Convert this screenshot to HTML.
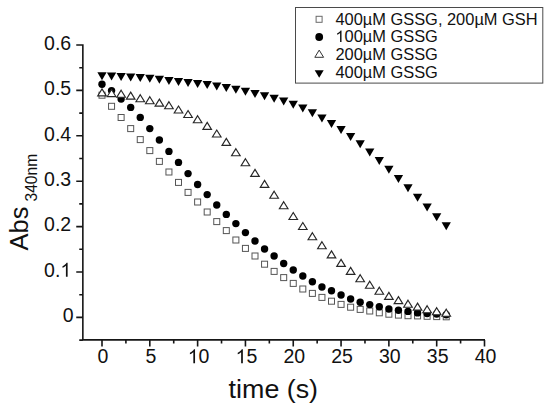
<!DOCTYPE html>
<html><head><meta charset="utf-8"><style>
html,body{margin:0;padding:0;background:#fff;width:550px;height:411px;overflow:hidden}
svg{display:block;font-family:"Liberation Sans",sans-serif}
</style></head><body>
<svg width="550" height="411" viewBox="0 0 550 411">
<rect width="550" height="411" fill="#fff"/>
<path d="M82.85 44.2V339.9M82.85 339.9H485M76.25 317.4H82.85M76.25 272H82.85M76.25 226.6H82.85M76.25 181.2H82.85M76.25 135.8H82.85M76.25 90.4H82.85M76.25 45H82.85M79.25 340.1H82.85M79.25 294.7H82.85M79.25 249.3H82.85M79.25 203.9H82.85M79.25 158.5H82.85M79.25 113.1H82.85M79.25 67.7H82.85M102 339.9V346.5M149.81 339.9V346.5M197.62 339.9V346.5M245.44 339.9V346.5M293.25 339.9V346.5M341.06 339.9V346.5M388.88 339.9V346.5M436.69 339.9V346.5M484.5 339.9V346.5M125.91 339.9V343.5M173.72 339.9V343.5M221.53 339.9V343.5M269.34 339.9V343.5M317.16 339.9V343.5M364.97 339.9V343.5M412.78 339.9V343.5M460.59 339.9V343.5" fill="none" stroke="#161616" stroke-width="1.6"/>
<g font-size="19.5" fill="#111"><text x="44.09" y="276.7">0.</text><path transform="translate(60.36,276.7) scale(0.00952,-0.00952)" d="M763 0H583V1147Q518 1085 412.5 1023T223 930V1104Q375 1175 489 1276T650 1472H763V0Z"/><text x="44.09" y="231.3">0.2</text><text x="44.09" y="185.9">0.3</text><text x="44.09" y="140.5">0.4</text><text x="44.09" y="95.1">0.5</text><text x="44.09" y="49.7">0.6</text><text x="62.86" y="322.1">0</text></g>
<g font-size="19.5" fill="#111"><text x="97.58" y="363.2">0</text><text x="145.39" y="363.2">5</text><path transform="translate(187.78,363.2) scale(0.00952,-0.00952)" d="M763 0H583V1147Q518 1085 412.5 1023T223 930V1104Q375 1175 489 1276T650 1472H763V0Z"/><text x="198.62" y="363.2">0</text><path transform="translate(235.59,363.2) scale(0.00952,-0.00952)" d="M763 0H583V1147Q518 1085 412.5 1023T223 930V1104Q375 1175 489 1276T650 1472H763V0Z"/><text x="246.44" y="363.2">5</text><text x="283.41" y="363.2">20</text><text x="331.22" y="363.2">25</text><text x="379.03" y="363.2">30</text><text x="426.84" y="363.2">35</text><text x="474.66" y="363.2">40</text></g>
<text x="0" y="0" font-size="26.2" fill="#111" transform="translate(228.6,397.9) scale(1.025,1)">time (s)</text>
<g transform="translate(28.2,250.4) rotate(-90) scale(1,1.03)"><text x="0" y="0" font-size="25.4" fill="#111">Abs</text></g>
<g transform="translate(37.0,201.5) rotate(-90)"><text x="0" y="0" font-size="15.6" fill="#111">340nm</text></g>
<g fill="#fff" stroke="#555" stroke-width="1"><rect x="99" y="92.2" width="6" height="6"/><rect x="108.56" y="103.3" width="6" height="6"/><rect x="118.12" y="114.5" width="6" height="6"/><rect x="127.69" y="125.6" width="6" height="6"/><rect x="137.25" y="136.6" width="6" height="6"/><rect x="146.81" y="147.6" width="6" height="6"/><rect x="156.38" y="158.4" width="6" height="6"/><rect x="165.94" y="169" width="6" height="6"/><rect x="175.5" y="179.4" width="6" height="6"/><rect x="185.06" y="189.4" width="6" height="6"/><rect x="194.62" y="199" width="6" height="6"/><rect x="204.19" y="209" width="6" height="6"/><rect x="213.75" y="218.6" width="6" height="6"/><rect x="223.31" y="227.6" width="6" height="6"/><rect x="232.88" y="237" width="6" height="6"/><rect x="242.44" y="245.4" width="6" height="6"/><rect x="252" y="253" width="6" height="6"/><rect x="261.56" y="261.2" width="6" height="6"/><rect x="271.12" y="268.4" width="6" height="6"/><rect x="280.69" y="274.6" width="6" height="6"/><rect x="290.25" y="280.4" width="6" height="6"/><rect x="299.81" y="286" width="6" height="6"/><rect x="309.38" y="290.4" width="6" height="6"/><rect x="318.94" y="294.4" width="6" height="6"/><rect x="328.5" y="298.2" width="6" height="6"/><rect x="338.06" y="301.4" width="6" height="6"/><rect x="347.62" y="304.2" width="6" height="6"/><rect x="357.19" y="306.4" width="6" height="6"/><rect x="366.75" y="308" width="6" height="6"/><rect x="376.31" y="309.8" width="6" height="6"/><rect x="385.88" y="311.2" width="6" height="6"/><rect x="395.44" y="312.1" width="6" height="6"/><rect x="405" y="312.7" width="6" height="6"/><rect x="414.56" y="312.9" width="6" height="6"/><rect x="424.12" y="313.3" width="6" height="6"/><rect x="433.69" y="313.6" width="6" height="6"/><rect x="443.25" y="313.8" width="6" height="6"/></g>
<g fill="#000"><circle cx="102" cy="84.2" r="3.7"/><circle cx="111.56" cy="90.6" r="3.7"/><circle cx="121.12" cy="99" r="3.7"/><circle cx="130.69" cy="107.4" r="3.7"/><circle cx="140.25" cy="117.4" r="3.7"/><circle cx="149.81" cy="128.6" r="3.7"/><circle cx="159.38" cy="140" r="3.7"/><circle cx="168.94" cy="151.4" r="3.7"/><circle cx="178.5" cy="162.4" r="3.7"/><circle cx="188.06" cy="173.6" r="3.7"/><circle cx="197.62" cy="184.5" r="3.7"/><circle cx="207.19" cy="194.6" r="3.7"/><circle cx="216.75" cy="205" r="3.7"/><circle cx="226.31" cy="214.4" r="3.7"/><circle cx="235.88" cy="223.6" r="3.7"/><circle cx="245.44" cy="232.6" r="3.7"/><circle cx="255" cy="241" r="3.7"/><circle cx="264.56" cy="249" r="3.7"/><circle cx="274.12" cy="256" r="3.7"/><circle cx="283.69" cy="263.5" r="3.7"/><circle cx="293.25" cy="270" r="3.7"/><circle cx="302.81" cy="276" r="3.7"/><circle cx="312.38" cy="281.8" r="3.7"/><circle cx="321.94" cy="287" r="3.7"/><circle cx="331.5" cy="290.8" r="3.7"/><circle cx="341.06" cy="295" r="3.7"/><circle cx="350.62" cy="299" r="3.7"/><circle cx="360.19" cy="302.2" r="3.7"/><circle cx="369.75" cy="304.6" r="3.7"/><circle cx="379.31" cy="306.8" r="3.7"/><circle cx="388.88" cy="309" r="3.7"/><circle cx="398.44" cy="310.2" r="3.7"/><circle cx="408" cy="311.4" r="3.7"/><circle cx="417.56" cy="312.9" r="3.7"/><circle cx="427.12" cy="313.6" r="3.7"/><circle cx="436.69" cy="314" r="3.7"/><circle cx="446.25" cy="314.7" r="3.7"/></g>
<g fill="#fff" stroke="#262626" stroke-width="1.15"><path d="M102 88.85L106.3 95.85L97.7 95.85Z"/><path d="M111.56 89.55L115.86 96.55L107.26 96.55Z"/><path d="M121.12 90.2L125.42 97.2L116.83 97.2Z"/><path d="M130.69 92.1L134.99 99.1L126.39 99.1Z"/><path d="M140.25 94.7L144.55 101.7L135.95 101.7Z"/><path d="M149.81 96.7L154.11 103.7L145.51 103.7Z"/><path d="M159.38 99.1L163.68 106.1L155.07 106.1Z"/><path d="M168.94 101.7L173.24 108.7L164.64 108.7Z"/><path d="M178.5 106L182.8 113L174.2 113Z"/><path d="M188.06 110.5L192.36 117.5L183.76 117.5Z"/><path d="M197.62 115.7L201.93 122.7L193.32 122.7Z"/><path d="M207.19 122.4L211.49 129.4L202.89 129.4Z"/><path d="M216.75 130L221.05 137L212.45 137Z"/><path d="M226.31 138.4L230.61 145.4L222.01 145.4Z"/><path d="M235.88 148.7L240.18 155.7L231.57 155.7Z"/><path d="M245.44 158.7L249.74 165.7L241.14 165.7Z"/><path d="M255 169.4L259.3 176.4L250.7 176.4Z"/><path d="M264.56 180.4L268.86 187.4L260.26 187.4Z"/><path d="M274.12 191.2L278.43 198.2L269.82 198.2Z"/><path d="M283.69 201.7L287.99 208.7L279.39 208.7Z"/><path d="M293.25 212.5L297.55 219.5L288.95 219.5Z"/><path d="M302.81 222.5L307.11 229.5L298.51 229.5Z"/><path d="M312.38 232.7L316.68 239.7L308.07 239.7Z"/><path d="M321.94 241.7L326.24 248.7L317.64 248.7Z"/><path d="M331.5 250.9L335.8 257.9L327.2 257.9Z"/><path d="M341.06 259.4L345.36 266.4L336.76 266.4Z"/><path d="M350.62 267.4L354.93 274.4L346.32 274.4Z"/><path d="M360.19 274.7L364.49 281.7L355.89 281.7Z"/><path d="M369.75 281.2L374.05 288.2L365.45 288.2Z"/><path d="M379.31 287.2L383.61 294.2L375.01 294.2Z"/><path d="M388.88 292.4L393.18 299.4L384.57 299.4Z"/><path d="M398.44 296.6L402.74 303.6L394.14 303.6Z"/><path d="M408 300.2L412.3 307.2L403.7 307.2Z"/><path d="M417.56 303.1L421.86 310.1L413.26 310.1Z"/><path d="M427.12 305.7L431.43 312.7L422.82 312.7Z"/><path d="M436.69 307.7L440.99 314.7L432.39 314.7Z"/><path d="M446.25 309.2L450.55 316.2L441.95 316.2Z"/></g>
<g fill="#000"><path d="M97.35 72.2L106.65 72.2L102 80.2Z"/><path d="M106.91 72.6L116.21 72.6L111.56 80.6Z"/><path d="M116.47 73L125.78 73L121.12 81Z"/><path d="M126.04 73.55L135.34 73.55L130.69 81.55Z"/><path d="M135.6 74.05L144.9 74.05L140.25 82.05Z"/><path d="M145.16 74.7L154.46 74.7L149.81 82.7Z"/><path d="M154.72 75.7L164.03 75.7L159.38 83.7Z"/><path d="M164.29 76.9L173.59 76.9L168.94 84.9Z"/><path d="M173.85 77.9L183.15 77.9L178.5 85.9Z"/><path d="M183.41 78.9L192.71 78.9L188.06 86.9Z"/><path d="M192.97 79.9L202.28 79.9L197.62 87.9Z"/><path d="M202.54 81.1L211.84 81.1L207.19 89.1Z"/><path d="M212.1 82.5L221.4 82.5L216.75 90.5Z"/><path d="M221.66 84L230.96 84L226.31 92Z"/><path d="M231.22 85.7L240.53 85.7L235.88 93.7Z"/><path d="M240.79 87.7L250.09 87.7L245.44 95.7Z"/><path d="M250.35 90L259.65 90L255 98Z"/><path d="M259.91 92.2L269.21 92.2L264.56 100.2Z"/><path d="M269.48 94.7L278.77 94.7L274.12 102.7Z"/><path d="M279.04 97.5L288.34 97.5L283.69 105.5Z"/><path d="M288.6 100.8L297.9 100.8L293.25 108.8Z"/><path d="M298.16 104.4L307.46 104.4L302.81 112.4Z"/><path d="M307.73 109.15L317.02 109.15L312.38 117.15Z"/><path d="M317.29 114.4L326.59 114.4L321.94 122.4Z"/><path d="M326.85 120L336.15 120L331.5 128Z"/><path d="M336.41 126L345.71 126L341.06 134Z"/><path d="M345.98 132.9L355.27 132.9L350.62 140.9Z"/><path d="M355.54 140.3L364.84 140.3L360.19 148.3Z"/><path d="M365.1 148.5L374.4 148.5L369.75 156.5Z"/><path d="M374.66 156.9L383.96 156.9L379.31 164.9Z"/><path d="M384.23 165.65L393.52 165.65L388.88 173.65Z"/><path d="M393.79 175.05L403.09 175.05L398.44 183.05Z"/><path d="M403.35 184.15L412.65 184.15L408 192.15Z"/><path d="M412.91 193.75L422.21 193.75L417.56 201.75Z"/><path d="M422.48 203.45L431.77 203.45L427.12 211.45Z"/><path d="M432.04 213.15L441.34 213.15L436.69 221.15Z"/><path d="M441.6 222.35L450.9 222.35L446.25 230.35Z"/></g>
<rect x="295.5" y="7.5" width="247.3" height="75.6" fill="none" stroke="#4a4a4a" stroke-width="1"/>
<g fill="#fff" stroke="#6a6a6a" stroke-width="1"><rect x="316.1" y="16.3" width="6" height="6"/></g><g fill="#000"><circle cx="319.2" cy="37" r="3.9"/></g><g fill="#fff" stroke="#333" stroke-width="1"><path d="M319.2 50.1L323.6 57.3L314.8 57.3Z"/></g><g fill="#000"><path d="M314.7 70.2L323.7 70.2L319.2 77.8Z"/></g>
<g font-size="16.1" fill="#111" transform="translate(335.4,0) scale(1.02,1) translate(-335.4,0)"><text x="335.4" y="24.7">400µM GSSG, 200µM GSH</text><path transform="translate(335.4,42) scale(0.00786,-0.00786)" d="M763 0H583V1147Q518 1085 412.5 1023T223 930V1104Q375 1175 489 1276T650 1472H763V0Z"/><text x="344.35" y="42.0">00µM GSSG</text><text x="335.4" y="59.6">200µM GSSG</text><text x="335.4" y="77.6">400µM GSSG</text></g>
</svg>
</body></html>
